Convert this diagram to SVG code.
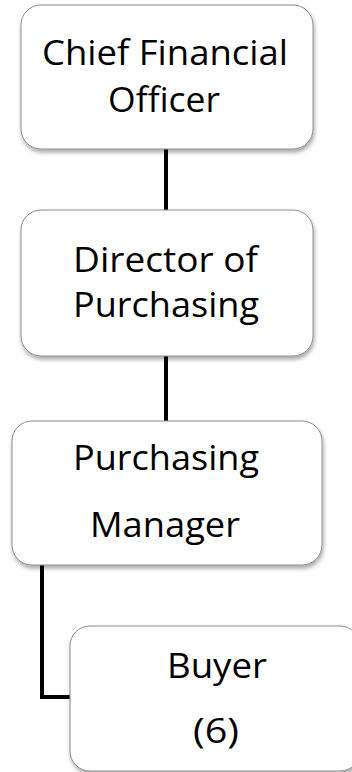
<svg xmlns="http://www.w3.org/2000/svg" width="352" height="772" viewBox="0 0 352 772">
<defs>
<filter id="sh" x="-10%" y="-10%" width="130%" height="130%">
<feGaussianBlur in="SourceAlpha" stdDeviation="2"/>
<feOffset dx="1" dy="3" result="b"/>
<feComponentTransfer><feFuncA type="linear" slope="0.35"/></feComponentTransfer>
<feMerge><feMergeNode/><feMergeNode in="SourceGraphic"/></feMerge>
</filter>
</defs>
<style>
.box{fill:#fff;stroke:#8c8c8c;stroke-width:1;filter:url(#sh)}
.t{font-family:"Open Sans","Liberation Sans",sans-serif;font-size:34px;fill:#000;text-anchor:middle}
.c{fill:none;stroke:#000;stroke-width:4}
</style>
<rect width="352" height="772" fill="#fff"/>
<g id="connectors">
<line class="c" x1="166" y1="149" x2="166" y2="211"/>
<line class="c" x1="166" y1="356" x2="166" y2="422"/>
<polyline class="c" points="42,565 42,697 71,697"/>
</g>
<g id="cfo">
<rect class="box" x="21" y="5" width="292" height="144" rx="20"/>
<text class="t" x="165" y="65" textLength="246" lengthAdjust="spacingAndGlyphs">Chief Financial</text>
<text class="t" x="164" y="112" textLength="112" lengthAdjust="spacingAndGlyphs">Officer</text>
</g>
<g id="director">
<rect class="box" x="21" y="210" width="292" height="146" rx="20"/>
<text class="t" x="165.5" y="272" textLength="185" lengthAdjust="spacingAndGlyphs">Director of</text>
<text class="t" x="166" y="317" textLength="186" lengthAdjust="spacingAndGlyphs">Purchasing</text>
</g>
<g id="manager">
<rect class="box" x="12" y="421" width="310" height="144" rx="20"/>
<text class="t" x="166" y="470" textLength="186" lengthAdjust="spacingAndGlyphs">Purchasing</text>
<text class="t" x="165" y="537" textLength="150" lengthAdjust="spacingAndGlyphs">Manager</text>
</g>
<g id="buyer">
<rect class="box" x="70" y="626" width="290" height="145" rx="20"/>
<text class="t" x="217" y="678" textLength="100" lengthAdjust="spacingAndGlyphs">Buyer</text>
<text class="t" x="216" y="743" textLength="46" lengthAdjust="spacingAndGlyphs">(6)</text>
</g>
</svg>
